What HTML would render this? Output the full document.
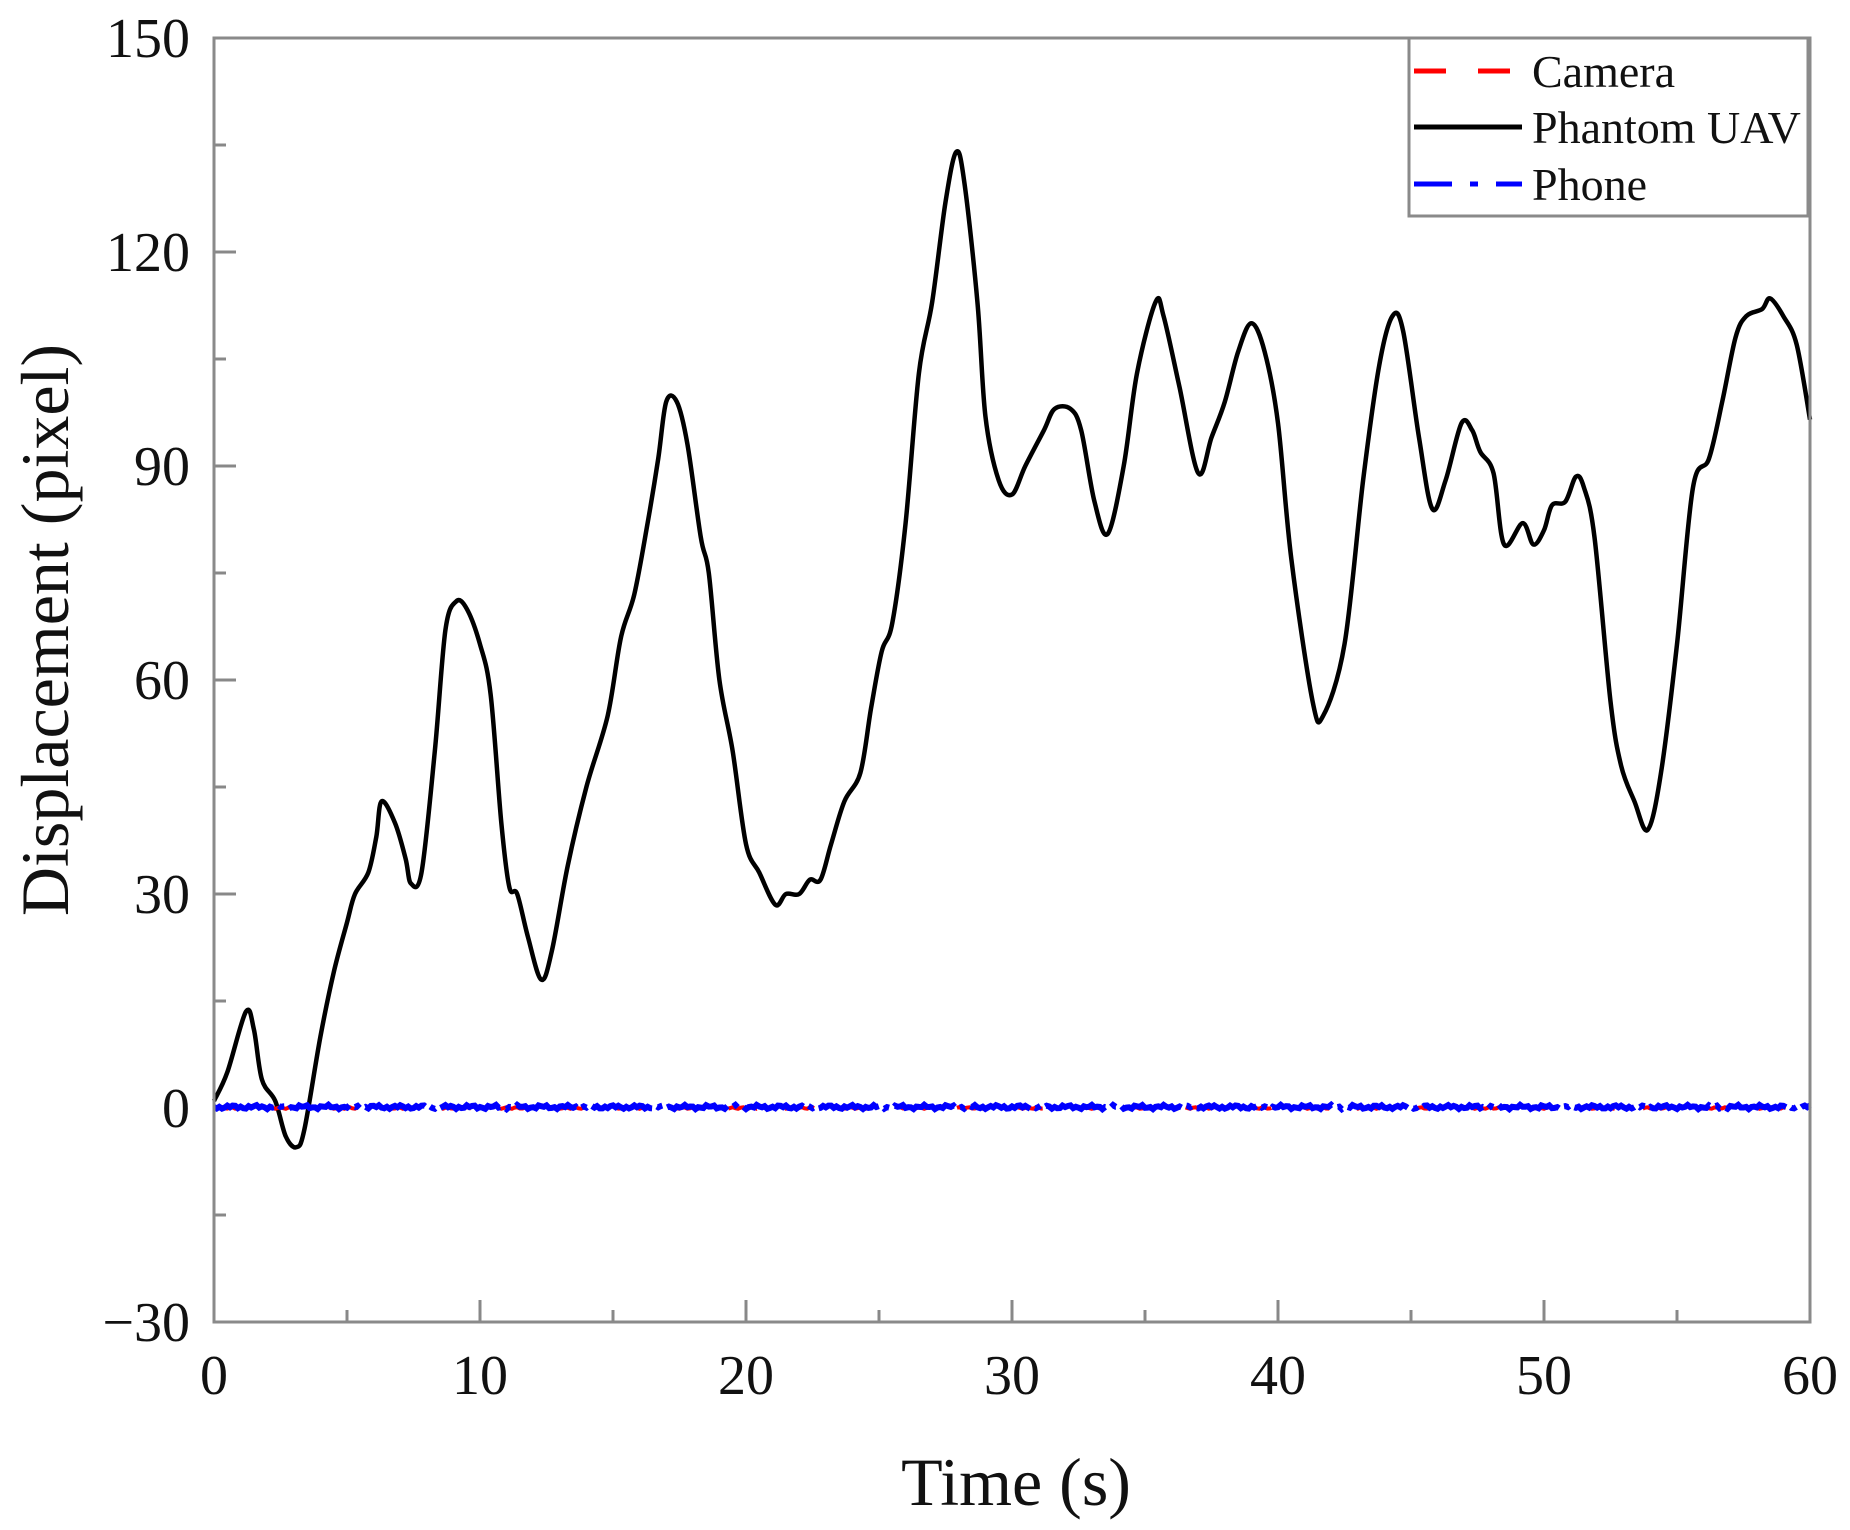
<!DOCTYPE html>
<html><head><meta charset="utf-8"><style>
html,body{margin:0;padding:0;background:#fff;}
svg{display:block;font-family:"Liberation Serif",serif;}
</style></head><body>
<svg id="s" width="1850" height="1530" viewBox="0 0 1850 1530" xmlns="http://www.w3.org/2000/svg">
<g id="ticks" stroke="#888" stroke-width="3"></g>
<g id="series"></g>
<rect x="214" y="38" width="1596" height="1284" fill="none" stroke="#8a8a8a" stroke-width="3"/>
<g id="labels" font-size="56" fill="#111"></g>
<text x="1016" y="1505" font-size="68" text-anchor="middle" fill="#111">Time (s)</text>
<text transform="translate(68,630) rotate(-90)" font-size="68" text-anchor="middle" fill="#111">Displacement (pixel)</text>
<rect x="1409" y="38" width="399" height="178" fill="#fff" stroke="#8a8a8a" stroke-width="3"/>
<line x1="1414" y1="71" x2="1513" y2="71" stroke="#f00" stroke-width="5" stroke-dasharray="32,32"/>
<line x1="1414" y1="127" x2="1522" y2="127" stroke="#000" stroke-width="5"/>
<line x1="1414" y1="184" x2="1522" y2="184" stroke="#00f" stroke-width="5" stroke-dasharray="38,18,8,18"/>
<g font-size="46" fill="#111">
<text x="1532" y="87">Camera</text>
<text x="1532" y="143">Phantom UAV</text>
<text x="1532" y="200">Phone</text>
</g>
</svg>
<script>
const NS="http://www.w3.org/2000/svg";
const X=t=>214+t*1596/60, Y=v=>1322-(v+30)*1284/180;
function el(p,n,a,txt){const e=document.createElementNS(NS,n);for(const k in a)e.setAttribute(k,a[k]);if(txt!=null)e.textContent=txt;document.getElementById(p).appendChild(e);return e;}
for(let t=0;t<=60;t+=5){const L=t%10==0?22:12;el("ticks","line",{x1:X(t),x2:X(t),y1:1322,y2:1322-L});
 if(t%10==0)el("labels","text",{x:X(t),y:1394,"text-anchor":"middle"},String(t));}
for(let v=-30;v<=150;v+=15){const L=v%30==0?22:12;el("ticks","line",{x1:214,x2:214+L,y1:Y(v),y2:Y(v)});
 if(v%30==0)el("labels","text",{x:190,y:Y(v)+19,"text-anchor":"end"},v<0?"\u2212"+(-v):String(v));}
const d=[[0,1],[0.5,5],[1.2,13.5],[1.5,11],[1.8,4],[2.3,1],[2.7,-4],[3.1,-5.5],[3.4,-3],[4,10],[4.5,19],[5,26],[5.3,30],[5.8,33],[6.1,38],[6.3,43],[6.8,40],[7.2,35],[7.4,31.5],[7.8,33],[8.3,50],[8.7,67],[9.1,71],[9.5,70],[10,65],[10.4,58],[10.8,40],[11.1,31],[11.4,30],[11.8,24],[12.3,18],[12.7,22],[13.3,34],[14,45],[14.8,55],[15.3,66],[15.8,72],[16.3,82],[16.7,91],[17,99],[17.4,99],[17.8,93],[18.3,80],[18.6,75],[19,60],[19.5,50],[20,37],[20.5,33],[21.1,28.5],[21.5,30],[22,30],[22.4,32],[22.8,32],[23.2,37],[23.7,43],[24.3,47],[24.7,56],[25.1,64],[25.5,68],[26,82],[26.5,103],[27,113],[27.5,127],[27.9,134],[28.2,130],[28.7,113],[29,97],[29.5,88],[30,86],[30.5,90],[31.2,95],[31.6,98],[32.2,98],[32.6,95],[33.1,85],[33.6,80.5],[34.2,90],[34.7,103],[35.4,113],[35.7,111],[36.3,101],[37,89],[37.5,94],[38,99],[38.5,106],[39,110],[39.5,106],[40,96],[40.5,77],[41.3,57],[41.7,55],[42.5,65],[43.2,88],[43.8,104],[44.3,111],[44.7,109],[45.3,94],[45.8,84],[46.3,88],[46.9,96],[47.3,95],[47.6,92],[48.1,89],[48.5,79],[49.2,82],[49.6,79],[50,81],[50.3,84.5],[50.8,85],[51.2,88.5],[51.5,87],[51.9,80],[52.5,57],[52.9,48],[53.4,43],[53.9,39],[54.4,47],[55,65],[55.6,87],[56.2,91],[56.7,99],[57.2,108],[57.6,111],[58.2,112],[58.5,113.5],[59,111],[59.5,107],[60,96.5]];
const P=d.map(p=>[X(p[0]),Y(p[1])]);
let s="M"+P[0][0].toFixed(1)+","+P[0][1].toFixed(1);
for(let i=0;i<P.length-1;i++){const p0=P[Math.max(0,i-1)],p1=P[i],p2=P[i+1],p3=P[Math.min(P.length-1,i+2)];
 const c1=[p1[0]+(p2[0]-p0[0])/6,p1[1]+(p2[1]-p0[1])/6],c2=[p2[0]-(p3[0]-p1[0])/6,p2[1]-(p3[1]-p1[1])/6];
 s+=" C"+c1.map(v=>v.toFixed(1))+" "+c2.map(v=>v.toFixed(1))+" "+p2.map(v=>v.toFixed(1));}
el("series","path",{d:s,fill:"none",stroke:"#000","stroke-width":4.5,"stroke-linejoin":"round"});
let pr=[],pb=[];for(let i=0;i<=600;i++){const t=i/10;pr.push(X(t).toFixed(1)+","+(Y(0)+Math.sin(i*1.7)*0.8).toFixed(1));pb.push(X(t).toFixed(1)+","+(Y(0)-1+Math.sin(i*2.3)*1.2+Math.sin(i*0.7)*1).toFixed(1));}
el("series","polyline",{points:pr.join(" "),fill:"none",stroke:"#f00","stroke-width":4,"stroke-dasharray":"30,30"});
el("series","polyline",{points:pb.join(" "),fill:"none",stroke:"#00f","stroke-width":6,"stroke-dasharray":"70,6,6,6"});
</script>
</body></html>
